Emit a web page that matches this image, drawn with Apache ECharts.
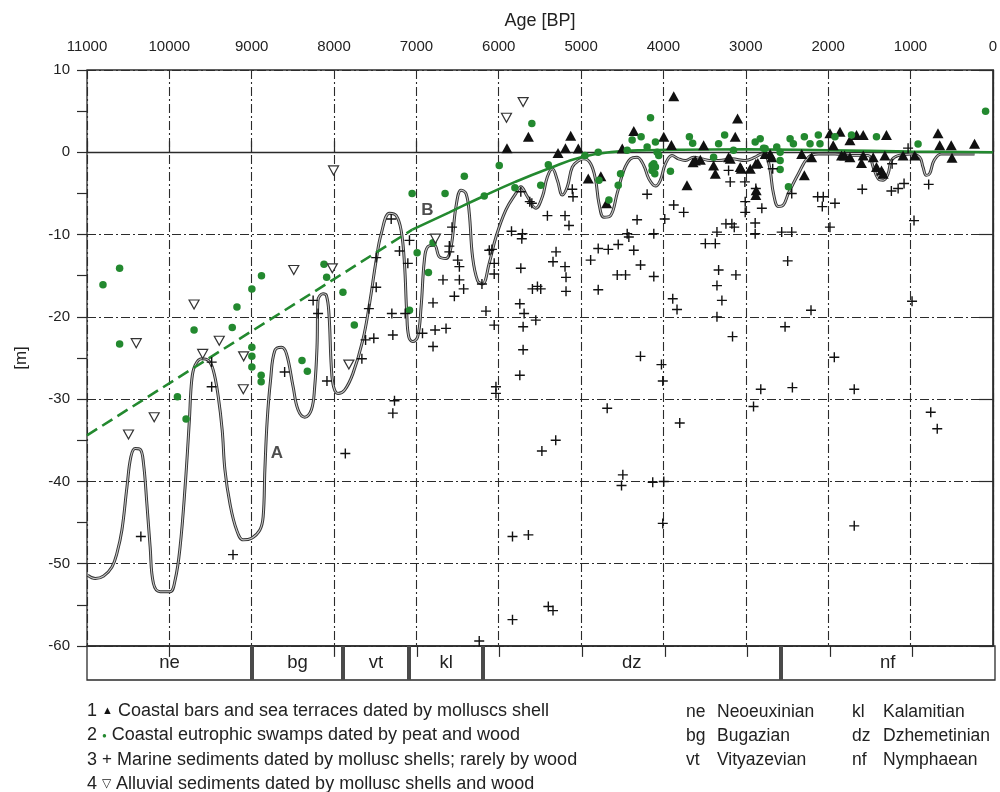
<!DOCTYPE html>
<html>
<head>
<meta charset="utf-8">
<title>Black Sea level curve</title>
<script src="https://cdn.jsdelivr.net/npm/echarts@6/dist/echarts.min.js"></script>
<style>
  html, body { margin: 0; padding: 0; background: #fff; }
  #chart { width: 1000px; height: 792px; }
</style>
</head>
<body>
<div id="chart"></div>
<script>
// ages in years BP, depths in metres
const coastalBars = [
  [5900,0.5],[5640,1.9],[5280,-0.1],[5190,0.5],[5126,2.0],[5034,0.45],[4913,-3.2],[4760,-2.9],[4690,-6.2],
  [4500,0.45],[4360,2.6],[3996,1.9],[3903,0.9],[3875,6.8],[3714,-4.0],[3640,-1.2],[3613,-1.0],[3552,-0.9],
  [3512,0.85],[3391,-1.6],[3370,-2.6],[3209,-0.6],[3189,-0.8],[3128,1.9],[3100,4.1],[3068,-1.8],[3055,-2.0],
  [2946,-2.0],[2878,-1.4],[2874,-4.6],[2878,-5.2],[2854,-1.3],[2765,-0.2],[2704,-0.2],[2684,-0.6],[2321,-0.2],
  [2289,-2.8],[2200,-0.6],[1978,2.3],[1938,0.85],[1856,2.5],[1837,-0.4],[1800,-0.4],[1735,1.45],[1735,-0.6],
  [1655,2.1],[1574,2.1],[1574,-0.4],[1595,-1.3],[1453,-0.6],[1413,-1.8],[1352,-2.2],[1332,-2.6],[1311,-0.4],
  [1292,2.1],[1090,-0.4],[948,-0.4],[666,2.3],[645,0.85],[505,0.85],[496,-0.65],[222,1.05]
];
const swamps = [
  [10806,-16.1],[10604,-14.1],[10604,-23.3],[9902,-29.7],[9797,-32.4],[9700,-21.6],[9236,-21.3],[9179,-18.8],
  [8998,-16.6],[8998,-23.7],[8998,-24.8],[8998,-26.1],[8885,-27.1],[8885,-27.9],[8881,-15.0],[8389,-25.3],
  [8324,-26.6],[8122,-13.6],[8090,-15.2],[7892,-17.0],[7754,-21.0],[7052,-5.0],[6991,-12.2],[7084,-19.2],
  [6854,-14.6],[6652,-5.0],[6798,-11.0],[6418,-2.9],[6176,-5.3],[5994,-1.6],[5804,-4.3],[5598,3.5],[5490,-4.0],
  [5398,-1.5],[4953,-0.4],[4792,0.0],[4783,-3.4],[4662,-5.8],[4549,-4.0],[4521,-2.6],[4440,0.25],[4380,1.5],
  [4271,1.9],[4157,4.2],[4198,0.65],[4097,1.25],[4077,0.0],[4117,-1.4],[4138,-2.2],[4105,-2.6],[4138,-1.6],
  [4097,-1.8],[4057,-0.4],[3915,-2.3],[3685,1.9],[3645,1.1],[3391,-0.6],[3330,1.05],[3257,2.1],[3149,0.25],
  [2886,1.25],[2825,1.65],[2785,0.5],[2765,0.45],[2624,0.65],[2583,0.0],[2583,-1.0],[2583,-2.1],[2482,-4.2],
  [2462,1.65],[2422,1.05],[2289,1.9],[2220,1.05],[2119,2.1],[2099,1.05],[1917,1.9],[1716,2.1],[1413,1.9],
  [908,1.0],[88,5.0]
];
const marine = [
  [10346,-46.7],[9227,-48.9],[9486,-25.5],[9486,-28.5],[8600,-26.7],[8254,-18.0],[8194,-19.6],[8086,-27.8],
  [7863,-36.6],[7662,-25.1],[7617,-22.8],[7517,-22.6],[7577,-19.0],[7488,-16.4],[7488,-12.8],[7306,-8.1],
  [7205,-12.0],[7104,-13.5],[7084,-10.7],[7298,-19.6],[7286,-22.2],[7136,-19.6],[7266,-30.2],[7286,-31.7],
  [6926,-22.0],[6773,-21.6],[6640,-21.4],[6798,-23.6],[6798,-18.3],[6677,-15.5],[6539,-17.5],[6426,-16.6],
  [6478,-15.5],[6478,-13.9],[6498,-13.1],[6567,-9.1],[6600,-11.4],[6600,-12.1],[6204,-16.0],[6155,-19.3],
  [6115,-11.9],[6055,-21.0],[6055,-14.8],[6055,-13.5],[6083,-11.8],[6034,-28.5],[6034,-29.3],[6237,-59.4],
  [5845,-9.6],[5712,-9.9],[5720,-10.5],[5732,-14.1],[5744,-18.4],[5692,-19.6],[5704,-21.2],[5704,-24.0],
  [5744,-27.1],[5591,-16.6],[5550,-20.4],[5530,-16.3],[5490,-16.6],[5732,-4.8],[5623,-6.0],[5598,-6.2],
  [5409,-7.7],[5195,-7.7],[5147,-8.9],[5304,-12.1],[5341,-13.3],[5195,-13.9],[5183,-15.2],[5183,-16.9],
  [5107,-4.5],[5098,-5.4],[5476,-36.3],[5308,-35.0],[5833,-46.7],[5640,-46.5],[5833,-56.8],[5398,-55.2],
  [5341,-55.7],[4198,-5.1],[4320,-8.2],[4440,-9.9],[4420,-10.3],[4117,-9.9],[3984,-8.1],[3875,-6.4],
  [3754,-7.3],[4549,-11.2],[4670,-11.8],[4792,-11.7],[4884,-13.1],[4360,-11.9],[4561,-14.9],[4460,-14.9],
  [4278,-13.7],[4117,-15.1],[4792,-16.7],[3887,-17.8],[3835,-19.1],[4279,-24.8],[4024,-25.8],[4008,-27.8],
  [4683,-31.1],[3802,-32.9],[4493,-39.2],[4509,-40.5],[4130,-40.1],[3996,-40.0],[4008,-45.1],[3491,-11.1],
  [3370,-11.1],[3350,-9.7],[3330,-14.3],[3241,-8.7],[3169,-8.7],[3140,-9.1],[3120,-14.9],[3350,-16.2],
  [3290,-18.0],[3350,-20.0],[3161,-22.4],[3209,-2.2],[3189,-3.6],[3011,-3.6],[3007,-6.0],[3007,-7.3],
  [2886,-8.6],[2886,-9.9],[2805,-6.8],[2878,-4.4],[2673,-2.0],[2564,-9.7],[2442,-9.7],[2491,-13.2],
  [2442,-5.0],[2208,-19.2],[2523,-21.2],[2818,-28.8],[2434,-28.6],[2906,-30.9],[2127,-5.4],[2059,-5.4],
  [2071,-6.6],[1917,-6.2],[1978,-9.1],[1925,-24.9],[1683,-28.8],[1683,-45.4],[1586,-4.5],[1232,-4.7],
  [1150,-4.4],[1078,-3.8],[1223,-1.4],[1029,0.5],[779,-3.9],[957,-8.3],[981,-18.1],[754,-31.6],[675,-33.6]
];
const alluvial = [
  [8006,-2.2],[5906,4.2],[5704,6.1],[9700,-18.5],[10402,-23.2],[9394,-22.9],[9595,-24.5],[9098,-24.8],
  [9102,-28.8],[10184,-32.2],[8489,-14.3],[8021,-14.1],[7820,-25.8],[6769,-10.5],[10496,-34.3]
];

// curve A (sea-level oscillations)
const curveAges = [10992,10899,10798,10697,10636,10576,10515,10467,10415,10354,10314,10273,10233,10193,10112,9991,
  9930,9870,9809,9757,9728,9688,9607,9527,9466,9406,9358,9325,9264,9183,9103,9001,8901,8861,8840,8812,8771,8719,
  8638,8577,8497,8437,8356,8275,8235,8207,8195,8134,8093,8062,8033,8005,7953,7872,7771,7650,7569,7488,7427,7326,
  7245,7185,7145,7117,7093,7044,6984,6943,6903,6863,6782,6721,6640,6579,6519,6458,6398,6358,6318,6257,6197,6116,
  6034,5913,5792,5732,5652,5550,5470,5410,5349,5288,5228,5167,5107,5026,4965,4884,4823,4783,4723,4642,4562,4481,
  4400,4320,4239,4178,4097,4037,3976,3896,3815,3734,3633,3532,3431,3330,3169,3007,2886,2806,2745,2704,2664,2604,
  2543,2483,2361,2240,2119,1917,1716,1514,1453,1393,1332,1272,1232,1150,989,888,848,808,767,714,626,424,222];
const curveDepths = [-51.4,-51.8,-51.5,-50.4,-48.7,-45.9,-40.7,-37.0,-36.0,-36.1,-37.8,-42.7,-48.0,-52.4,-53.4,-53.4,
  -52.0,-48.0,-40.7,-32.6,-27.7,-25.9,-25.1,-25.3,-26.5,-29.7,-33.8,-38.6,-42.7,-45.9,-47.1,-46.9,-45.9,-44.3,-38.6,
  -32.6,-27.7,-24.1,-23.7,-24.5,-28.5,-31.3,-32.2,-31.3,-28.5,-23.7,-18.0,-17.2,-17.4,-19.6,-26.1,-28.5,-29.3,-28.9,
  -26.9,-22.8,-18.4,-13.1,-9.9,-7.4,-7.7,-9.5,-13.5,-19.6,-22.4,-23.0,-22.4,-18.8,-13.1,-11.5,-11.3,-12.7,-12.9,
  -11.5,-6.6,-4.6,-5.0,-7.4,-12.7,-15.6,-16.0,-13.5,-10.3,-7.0,-5.0,-4.2,-5.4,-6.8,-5.4,-3.0,-2.0,-3.4,-5.2,-4.2,
  -1.8,-1.0,-0.8,-1.4,-3.4,-6.2,-7.9,-7.7,-5.0,-2.2,-0.8,-0.6,-1.6,-3.2,-4.1,-3.4,-1.4,-0.4,-0.8,-1.0,-0.6,-0.8,
  -1.0,-1.0,-0.8,-1.0,-0.6,-0.2,-0.6,-2.2,-5.0,-6.6,-6.4,-5.0,-2.6,-0.6,-0.2,-0.2,-0.4,-0.4,-1.8,-3.2,-3.4,-2.6,
  -1.0,-0.4,-0.2,-0.6,-1.8,-2.8,-2.6,-1.0,-0.2,-0.2,-0.2];

// curve B (smoothed trend): dashed part before 7050 BP, solid after
const trendDashAges = [11000, 7050];
const trendDashDepths = [-34.4, -9.4];
const trendAges = [7050, 6600, 6200, 5800, 5400, 5000, 4600, 4200, 3800, 3000, 2000, 1000, 0];
const trendDepths = [-9.4, -7.3, -5.4, -3.6, -2.0, -0.6, 0.05, 0.25, 0.3, 0.35, 0.25, 0.1, 0];

const curveLabels = ['A', 'B'];
const curveLabelAges = [8695, 6866];
const curveLabelDepths = [-36.6, -7.0];

// Black Sea stages
const stageCodes = ['ne', 'bg', 'vt', 'kl', 'dz', 'nf'];
const stageNames = ['Neoeuxinian', 'Bugazian', 'Vityazevian', 'Kalamitian', 'Dzhemetinian', 'Nymphaean'];
const stageBounds = [11000, 9000, 7900, 7100, 6200, 2600, 0];
const stripTicks = [10000, 9000, 8000, 7000, 6000, 5000, 4000, 3000, 2000, 1000];

const legendSymbols = ['▲', '●', '+', '▽'];
const legendLabels = [
  'Coastal bars and sea terraces dated by molluscs shell',
  'Coastal eutrophic swamps dated by peat and wood',
  'Marine sediments dated by mollusc shells; rarely by wood',
  'Alluvial sediments dated by mollusc shells and wood'
];

const FONT = '"Liberation Sans", Arial, sans-serif';
const INK = '#2b2b2b';
const GREEN = '#23892f';
const dashDot = [9, 3, 2, 3];
const plusPath = 'path://M4.3,0H5.7V4.3H10V5.7H5.7V10H4.3V5.7H0V4.3H4.3Z';

const zip = (a, b) => a.map((v, i) => [v, b[i]]);

const chart = echarts.init(document.getElementById('chart'));

// legend drawn as plain text rows under the chart
const graphics = [];
const symStyle = [
  {fontSize: 11, fill: '#111'},
  {fontSize: 8, fill: GREEN},
  {fontSize: 17, fill: '#222'},
  {fontSize: 12, fill: '#222'}
];
legendLabels.forEach((lab, i) => {
  graphics.push({
    type: 'text', left: 87, top: 702 + i * 24.3,
    style: {
      text: (i + 1) + ' {s|' + legendSymbols[i] + '} ' + lab,
      fontSize: 18, fontFamily: FONT, fill: '#222',
      rich: {s: Object.assign({fontFamily: FONT}, symStyle[i])}
    }
  });
});
stageCodes.forEach((code, i) => {
  const col = Math.floor(i / 3), row = i % 3;
  const x = col === 0 ? 686 : 852;
  graphics.push({type: 'text', left: x, top: 703 + row * 24.3,
    style: {text: code, fontSize: 17.5, fontFamily: FONT, fill: '#222'}});
  graphics.push({type: 'text', left: x + 31, top: 703 + row * 24.3,
    style: {text: stageNames[i], fontSize: 17.5, fontFamily: FONT, fill: '#222'}});
});

const stageAreas = stageCodes.map((code, i) => [
  {xAxis: stageBounds[i], name: code},
  {xAxis: stageBounds[i + 1]}
]);
const stripLines = stripTicks.map(a => [
  {coord: [a, 1], lineStyle: {color: INK, width: 1.2, type: 'solid'}},
  {coord: [a, 0.68]}
]).concat(stageBounds.slice(1, -1).map(a => [
  {coord: [a, 1], lineStyle: {color: '#4a4a4a', width: 4, type: 'solid'}},
  {coord: [a, 0]}
]));

const option = {
  animation: false,
  backgroundColor: '#fff',
  textStyle: {fontFamily: FONT},
  grid: [
    {left: 87, right: 5, top: 70, bottom: 146, show: true, borderColor: INK, borderWidth: 1.3},
    {left: 87, right: 5, top: 646, height: 34, show: true, borderColor: INK, borderWidth: 1.3}
  ],
  xAxis: [
    {
      gridIndex: 0, type: 'value', inverse: true, position: 'top',
      min: 0, max: 11000, interval: 1000,
      name: 'Age [BP]', nameLocation: 'middle', nameGap: 40,
      nameTextStyle: {fontFamily: FONT, fontSize: 18, color: '#222'},
      axisLine: {show: true, lineStyle: {color: INK, width: 1.3}},
      axisTick: {show: true, length: 11, lineStyle: {color: INK, width: 1.2}},
      axisLabel: {margin: 16, fontFamily: FONT, fontSize: 15, color: '#222', formatter: v => String(v)},
      splitLine: {show: true, lineStyle: {type: dashDot, color: INK, width: 1.1}}
    },
    {
      gridIndex: 1, type: 'value', inverse: true, min: 0, max: 11000, show: false
    }
  ],
  yAxis: [
    {
      gridIndex: 0, type: 'value', position: 'left', min: -60, max: 10, interval: 10,
      name: '[m]', nameLocation: 'middle', nameGap: 57, nameRotate: 90,
      nameTextStyle: {fontFamily: FONT, fontSize: 17, color: '#222'},
      axisLine: {show: true, lineStyle: {color: INK, width: 1.3}},
      axisTick: {show: true, length: 14, lineStyle: {color: INK, width: 1.2}},
      axisLabel: {margin: 17, fontFamily: FONT, fontSize: 15, color: '#222'},
      splitLine: {show: true, lineStyle: {type: dashDot, color: INK, width: 1.1}}
    },
    {gridIndex: 1, type: 'value', min: 0, max: 1, show: false},
    {
      // half-step ticks on the depth axis
      gridIndex: 0, type: 'value', position: 'left', min: -60, max: 10, interval: 5,
      axisLine: {show: false},
      axisTick: {show: true, length: 10, lineStyle: {color: INK, width: 1.2}},
      axisLabel: {show: false},
      splitLine: {show: false}
    }
  ],
  graphic: graphics,
  series: [
    {
      name: 'curve A edge', type: 'line', data: zip(curveAges, curveDepths),
      smooth: 0.4, symbol: 'none', silent: true, z: 2,
      lineStyle: {color: '#333', width: 3}
    },
    {
      name: 'curve A', type: 'line', data: zip(curveAges, curveDepths),
      smooth: 0.4, symbol: 'none', silent: true, z: 3,
      lineStyle: {color: '#c4c4c4', width: 1.1}
    },
    {
      name: 'curve B dashed', type: 'line', data: zip(trendDashAges, trendDashDepths),
      symbol: 'none', silent: true, z: 4,
      lineStyle: {color: GREEN, width: 2.6, type: [12, 6]}
    },
    {
      name: 'curve B', type: 'line', data: zip(trendAges, trendDepths),
      smooth: 0.5, symbol: 'none', silent: true, z: 4,
      lineStyle: {color: GREEN, width: 2.6}
    },
    {
      name: 'Coastal bars', type: 'scatter', data: coastalBars, z: 6,
      symbol: 'triangle', symbolSize: [11, 10], itemStyle: {color: '#111', opacity: 1}
    },
    {
      name: 'Coastal swamps', type: 'scatter', data: swamps, z: 6,
      symbol: 'circle', symbolSize: 7.5, itemStyle: {color: GREEN, opacity: 1}
    },
    {
      name: 'Marine sediments', type: 'scatter', data: marine, z: 6,
      symbol: plusPath, symbolSize: 10, itemStyle: {color: '#111', opacity: 1}
    },
    {
      name: 'Alluvial sediments', type: 'scatter', data: alluvial, z: 6,
      symbol: 'triangle', symbolRotate: 180, symbolSize: [10, 9],
      itemStyle: {color: '#fff', borderColor: '#333', borderWidth: 1.2, opacity: 1}
    },
    {
      name: 'curve labels', type: 'scatter', z: 7, symbolSize: 0, silent: true,
      data: curveLabels.map((t, i) => [curveLabelAges[i], curveLabelDepths[i], t]),
      label: {
        show: true, position: 'inside', formatter: p => p.data[2],
        fontFamily: FONT, fontSize: 17, fontWeight: 'bold', color: '#222'
      }
    },
    {
      name: 'stages', type: 'scatter', xAxisIndex: 1, yAxisIndex: 1, data: [], silent: true,
      markArea: {
        silent: true, itemStyle: {color: 'rgba(0,0,0,0)'},
        label: {show: true, position: 'inside', fontFamily: FONT, fontSize: 18.5, color: '#222'},
        data: stageAreas
      },
      markLine: {
        silent: true, symbol: ['none', 'none'], label: {show: false},
        data: stripLines
      }
    }
  ]
};

chart.setOption(option);
</script>
</body>
</html>
